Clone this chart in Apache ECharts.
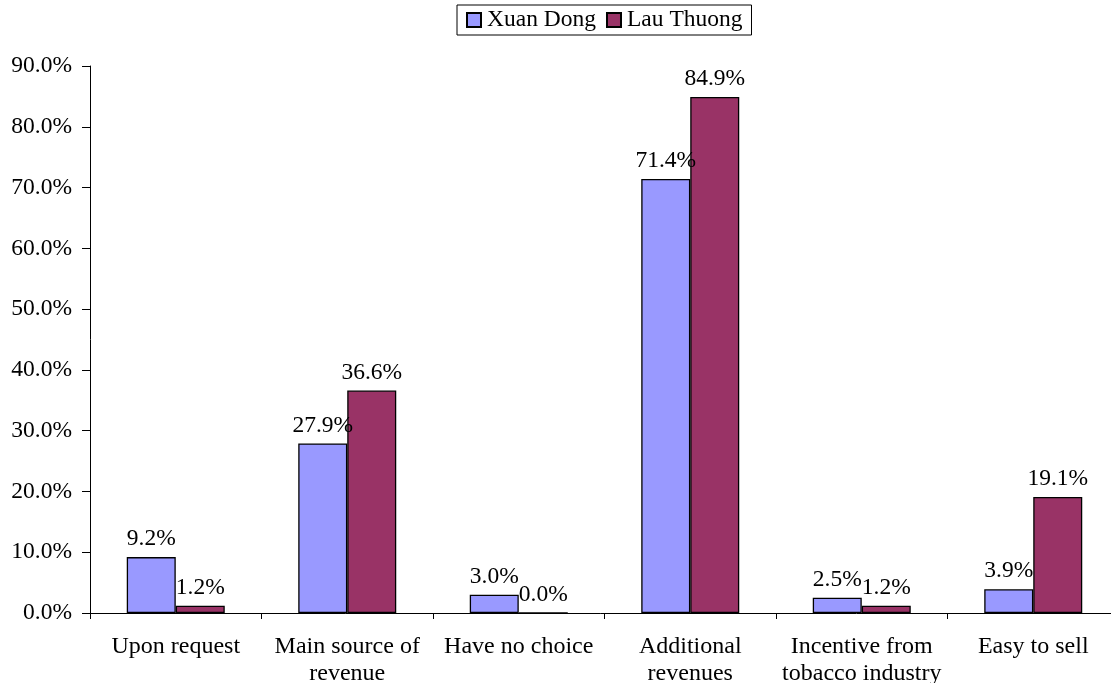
<!DOCTYPE html>
<html>
<head>
<meta charset="utf-8">
<script src="https://cdn.jsdelivr.net/npm/echarts@6/dist/echarts.min.js"></script>
<style>
  html, body { margin: 0; padding: 0; background: #fff; }
  #chart { width: 1111px; height: 683px; }
</style>
</head>
<body>
<div id="chart"></div>
<script>
// Reasons for selling cigarettes, share of retailers per commune
const categories = [
  'Upon request',
  'Main source of\nrevenue',
  'Have no choice',
  'Additional\nrevenues',
  'Incentive from\ntobacco industry',
  'Easy to sell'
];
const xuanDong = [9.2, 27.9, 3.0, 71.4, 2.5, 3.9];
const lauThuong = [1.2, 36.6, 0.0, 84.9, 1.2, 19.1];
const yTicks = { min: 0, max: 90, interval: 10 };

const FONT = '"Liberation Serif", "Times New Roman", serif';
const FS = 23.5;

const chart = echarts.init(document.getElementById('chart'), null, { renderer: 'canvas' });

const labelStyle = {
  show: true,
  position: 'top',
  distance: 6,
  fontFamily: FONT,
  fontSize: FS,
  color: '#000',
  formatter: p => p.value.toFixed(1) + '%'
};

chart.setOption({
  animation: false,
  backgroundColor: '#ffffff',
  textStyle: { fontFamily: FONT },
  legend: {
    top: 5,
    left: 457,
    padding: [3, 9, 3, 9],
    borderColor: '#000',
    borderWidth: 1,
    itemWidth: 14,
    itemHeight: 14,
    itemGap: 10,
    icon: 'rect',
    textStyle: { fontFamily: FONT, fontSize: FS, color: '#000', padding: [0, 0, 0, 1] },
    data: ['Xuan Dong', 'Lau Thuong']
  },
  grid: {
    left: 90,
    top: 66,
    width: 1029,
    height: 547,
    containLabel: false,
    outerBoundsMode: 'none'
  },
  xAxis: {
    type: 'category',
    data: categories,
    axisLine: { lineStyle: { color: '#000', width: 1 } },
    axisTick: { show: true, alignWithLabel: false, length: 6, lineStyle: { color: '#000' } },
    axisLabel: {
      interval: 0,
      margin: 20,
      fontFamily: FONT,
      fontSize: 24,
      lineHeight: 27,
      color: '#000',
      verticalAlign: 'top'
    }
  },
  yAxis: {
    type: 'value',
    min: yTicks.min,
    max: yTicks.max,
    interval: yTicks.interval,
    axisLine: { show: true, lineStyle: { color: '#000', width: 1 } },
    axisTick: { show: true, length: 8, lineStyle: { color: '#000' } },
    splitLine: { show: false },
    axisLabel: {
      margin: 18,
      fontFamily: FONT,
      fontSize: FS,
      color: '#000',
      formatter: v => v.toFixed(1) + '%'
    }
  },
  series: [
    {
      name: 'Xuan Dong',
      type: 'bar',
      data: xuanDong,
      barWidth: 49,
      barGap: '0%',
      itemStyle: { color: '#9999FF', borderColor: '#000', borderWidth: 1.3 },
      label: labelStyle
    },
    {
      name: 'Lau Thuong',
      type: 'bar',
      data: lauThuong,
      barWidth: 49,
      barGap: '0%',
      itemStyle: { color: '#993366', borderColor: '#000', borderWidth: 1.3 },
      label: labelStyle
    }
  ]
});
</script>
</body>
</html>
